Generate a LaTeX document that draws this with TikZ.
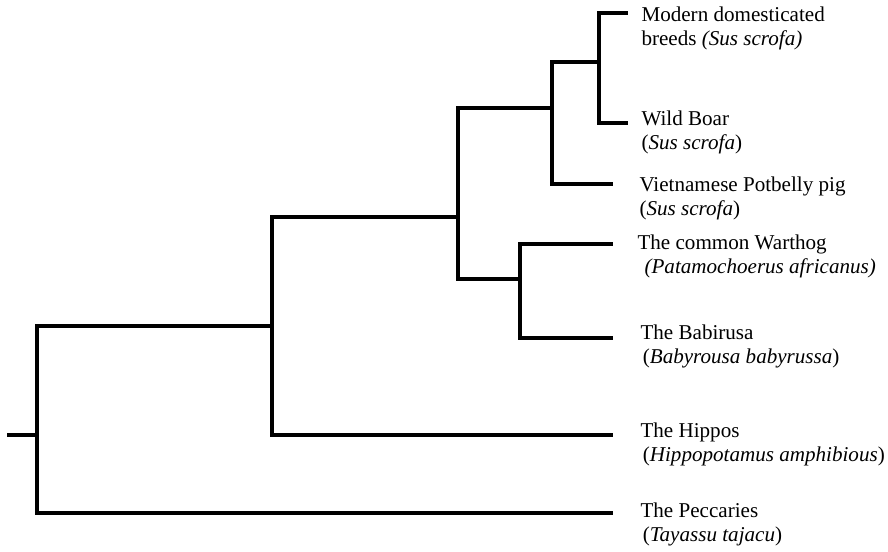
\documentclass[tikz,border=0pt]{standalone}
\usepackage{fontspec}
\setmainfont{Liberation Serif}
\begin{document}
\begin{tikzpicture}[x=0.03cm,y=-0.03cm,line width=2.6pt,
  taxon/.style={anchor=base west,align=left,inner sep=0pt,font=\fontsize{18}{20}\selectfont}]
\useasboundingbox (0,0) rectangle (888,551);
% junctions
\coordinate (S) at (7,435);
\coordinate (J0) at (37,435);
\coordinate (J1) at (272,326);
\coordinate (J2) at (458,217);
\coordinate (J3) at (552,108);
\coordinate (J4) at (599,62);
\coordinate (J5) at (520,279);
% leaf ends
\coordinate (Emodern) at (628,13);
\coordinate (Eboar) at (628,123);
\coordinate (Eviet) at (613,184);
\coordinate (Ewarthog) at (613,244);
\coordinate (Ebabirusa) at (613,338);
\coordinate (Ehippo) at (613,435);
\coordinate (Epeccary) at (613,513);
% branches
\draw (S) -- (J0);
\draw (J0) |- (J1);
\draw (J0) |- (Epeccary);
\draw (J1) |- (J2);
\draw (J1) |- (Ehippo);
\draw (J2) |- (J3);
\draw (J2) |- (J5);
\draw (J3) |- (J4);
\draw (J3) |- (Eviet);
\draw (J4) |- (Emodern);
\draw (J4) |- (Eboar);
\draw (J5) |- (Ewarthog);
\draw (J5) |- (Ebabirusa);
% labels (base = baseline of the second line)
\node[taxon] (modern) at (640,45) {Modern domesticated\\breeds \textit{(Sus scrofa)}};
\node[taxon] (boar) at (640,149) {Wild Boar\\(\textit{Sus scrofa})};
\node[taxon] (viet) at (638,215) {Vietnamese Potbelly pig\\(\textit{Sus scrofa})};
\node[taxon] (warthog) at (636,273) {The common Warthog\\\hspace{6pt}\textit{(Patamochoerus africanus)}};
\node[taxon] (babirusa) at (639,363) {The Babirusa\\\hspace{2pt}(\textit{Babyrousa babyrussa})};
\node[taxon] (hippo) at (639,461) {The Hippos\\\hspace{2pt}(\textit{Hippopotamus amphibious})};
\node[taxon] (peccary) at (639,541) {The Peccaries\\\hspace{2pt}(\textit{Tayassu tajacu})};
\end{tikzpicture}
\end{document}
